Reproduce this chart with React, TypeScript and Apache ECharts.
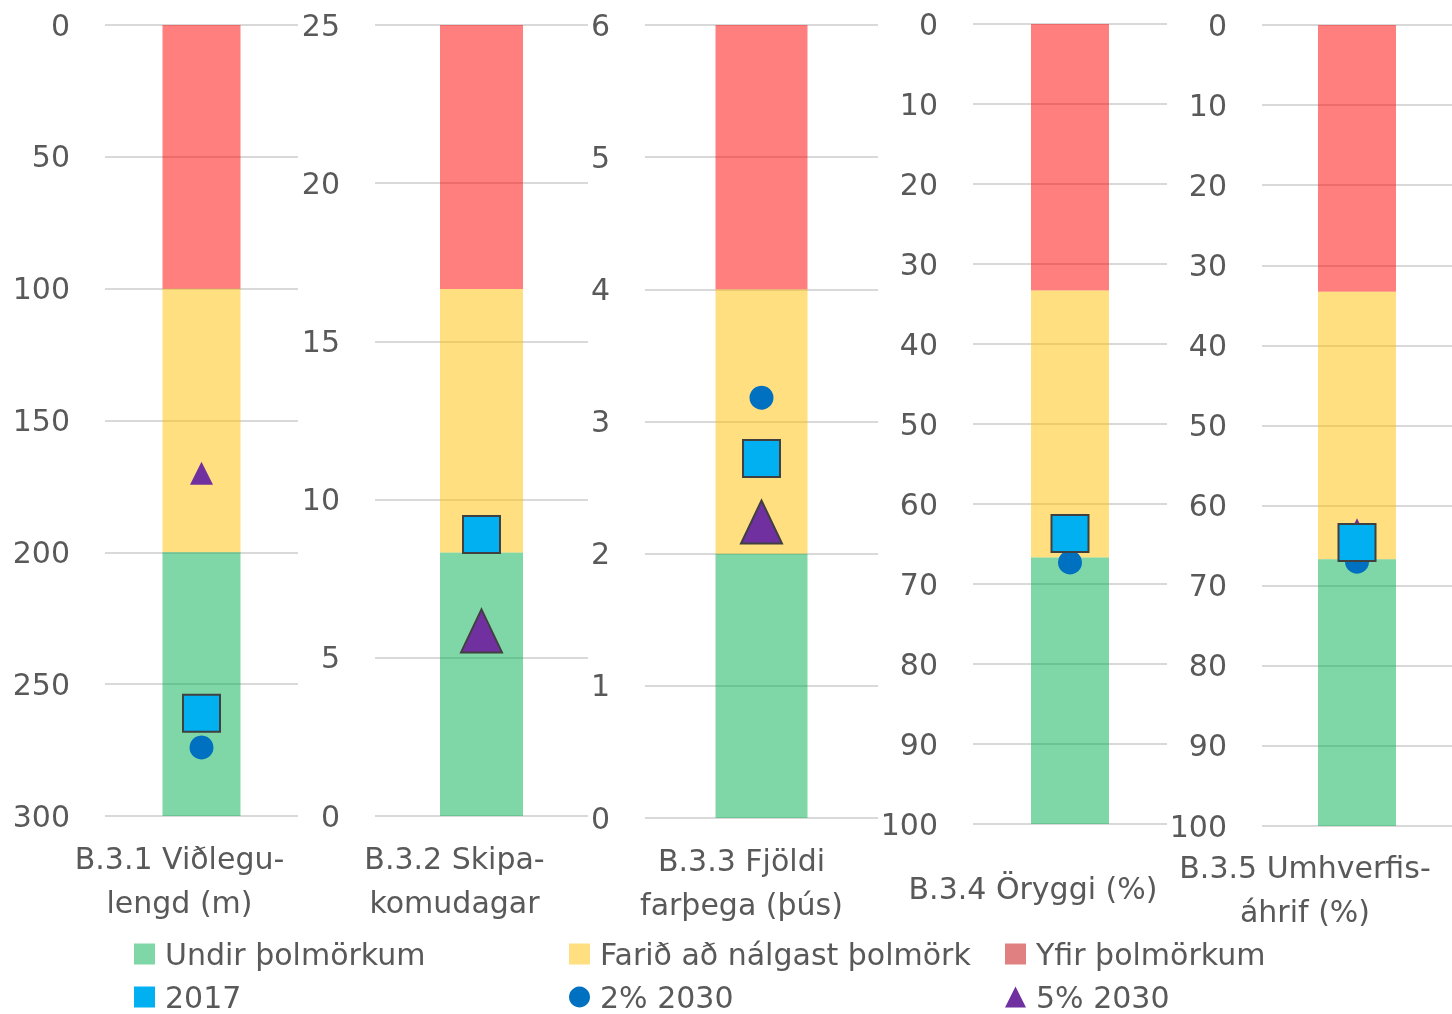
import React, { useEffect, useRef } from "react";
import * as echarts from "echarts";

const categories = [
  "B.3.1 Viðlegu-\nlengd (m)",
  "B.3.2 Skipa-\nkomudagar",
  "B.3.3 Fjöldi\nfarþega (þús)",
  "B.3.4 Öryggi (%)",
  "B.3.5 Umhverfis-\náhrif (%)",
];
const axisMax = [300, 25, 6, 100, 100];
const axisInterval = [50, 5, 1, 10, 10];
const axisInverse = [true, false, false, true, true];

// band widths (stacked)
const undirBand = [100, 8.33, 2, 33.3, 33.3];
const faridBand = [100, 8.33, 2, 33.4, 33.4];
const yfirBand = [100, 8.34, 2, 33.3, 33.3];

const values2017 = [261, 8.9, 2.72, 63.7, 64.6];
const values2pct = [274, 8.9, 3.18, 67.3, 67.0];
const values5pct = [170, 5.85, 2.24, 63.7, 63.0];
const triangleBig = [false, true, true, false, false];

const seriesNames = ["Undir þolmörkum", "Farið að nálgast þolmörk", "Yfir þolmörkum", "2017", "2% 2030", "5% 2030"];
const legendIcons = ["rect", "rect", "rect", "rect", "circle", "triangle"];

// layout
const gridLeft = [105, 375, 645, 973, 1262];
const gridWidth = [193, 213, 233, 194, 190];
const gridTop = [25, 25, 25, 24, 25];
const gridBottomY = [816, 816, 818, 824, 826];
const barWidths = [78, 83, 92, 78, 78];
const labelShift = [44, 54, 40, 74, 104];
const labelMargin = [20, 20, 20, 42, 19];
const legendLeft = [134, 569, 1005, 134, 569, 1005];
const legendCenterY = [952, 952, 952, 995, 995, 995];

const FONT = "DejaVu Sans";
const FS = 30;
const TXT = "#595959";

export default function App() {
  const ref = useRef<HTMLDivElement>(null);
  useEffect(() => {
    if (!ref.current) return;
    const chart = echarts.init(ref.current, null, { renderer: "svg" });
    const grid: any[] = [];
    const xAxis: any[] = [];
    const yAxis: any[] = [];
    const series: any[] = [];
    categories.forEach((cat, i) => {
      grid.push({
        left: gridLeft[i],
        width: gridWidth[i],
        top: gridTop[i],
        height: gridBottomY[i] - gridTop[i],
        containLabel: false,
        outerBoundsMode: "none",
      });
      xAxis.push({
        type: "category",
        gridIndex: i,
        data: [cat],
        axisLine: { show: false },
        axisTick: { show: false },
        axisLabel: {
          interval: 0,
          fontFamily: FONT,
          fontSize: FS,
          lineHeight: 44,
          color: TXT,
          margin: labelMargin[i],
          padding: [0, labelShift[i], 0, 0],
        },
      });
      yAxis.push({
        type: "value",
        gridIndex: i,
        min: 0,
        max: axisMax[i],
        interval: axisInterval[i],
        inverse: axisInverse[i],
        axisLine: { show: false },
        axisTick: { show: false },
        axisLabel: { fontFamily: FONT, fontSize: FS, color: TXT, margin: 35 },
        splitLine: { lineStyle: { color: "#D9D9D9", width: 2 } },
      });
      const bands = [
        { name: seriesNames[0], v: undirBand[i], color: "#00B050" },
        { name: seriesNames[1], v: faridBand[i], color: "#FFC000" },
        { name: seriesNames[2], v: yfirBand[i], color: "#FF0000" },
      ];
      const ordered = axisInverse[i] ? [bands[2], bands[1], bands[0]] : bands;
      ordered.forEach((b) => {
        series.push({
          type: "bar",
          name: b.name,
          xAxisIndex: i,
          yAxisIndex: i,
          stack: "p" + i,
          barWidth: barWidths[i],
          itemStyle: { color: b.color, opacity: 0.5 },
          data: [b.v],
        });
      });
      series.push({
        type: "scatter",
        name: seriesNames[4],
        xAxisIndex: i,
        yAxisIndex: i,
        symbol: "circle",
        symbolSize: 24,
        itemStyle: { color: "#0070C0", opacity: 1 },
        z: 3,
        data: [[cat, values2pct[i]]],
      });
      series.push({
        type: "scatter",
        name: seriesNames[5],
        xAxisIndex: i,
        yAxisIndex: i,
        symbol: "triangle",
        z: 4,
        itemStyle: { color: "#7030A0", opacity: 1 },
        data: [
          triangleBig[i]
            ? { value: [cat, values5pct[i]], symbolSize: [41, 43], itemStyle: { borderColor: "#404040", borderWidth: 2 } }
            : { value: [cat, values5pct[i]], symbolSize: [23, 23] },
        ],
      });
      series.push({
        type: "scatter",
        name: seriesNames[3],
        xAxisIndex: i,
        yAxisIndex: i,
        symbol: "rect",
        symbolSize: 37,
        z: 5,
        itemStyle: { color: "#00B0F0", borderColor: "#404040", borderWidth: 2, opacity: 1 },
        data: [[cat, values2017[i]]],
      });
    });

    const legend = seriesNames.map((name, k) => {
      const item: any = { name, icon: legendIcons[k] };
      if (k === 2) item.itemStyle = { color: "#E08080", opacity: 1 };
      if (k === 3 || k === 5) item.itemStyle = { borderWidth: 0 };
      return {
        left: legendLeft[k],
        top: legendCenterY[k] - 13,
        padding: 0,
        itemWidth: 21,
        itemHeight: 21,
        textStyle: { fontFamily: FONT, fontSize: FS, color: TXT, lineHeight: 26, padding: [0, 0, 0, 5] },
        data: [item],
      };
    });

    chart.setOption({
      animation: false,
      grid,
      xAxis,
      yAxis,
      series,
      legend,
    });
    return () => chart.dispose();
  }, []);
  return <div ref={ref} style={{ position: "fixed", left: 0, top: 0, width: 1452, height: 1014 }} />;
}
